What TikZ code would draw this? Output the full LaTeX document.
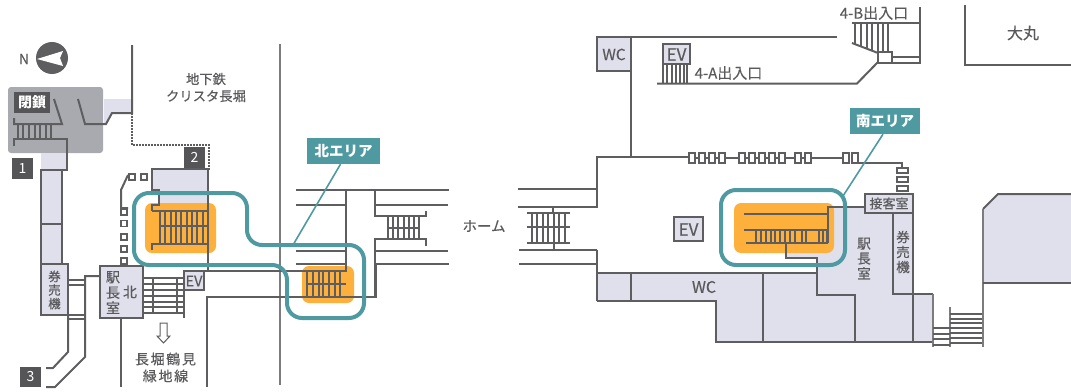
\documentclass[tikz,border=0pt]{standalone}
\usepackage{fontspec}
\setmainfont{Noto Sans CJK JP}
\newfontfamily\med[FakeBold=0.25]{Noto Sans CJK JP}
\newfontfamily\spaced[LetterSpace=12,FakeBold=0.25]{Noto Sans CJK JP}
\definecolor{ln}{HTML}{5E5E60}
\definecolor{lnlight}{HTML}{7C7C7E}
\definecolor{tx}{HTML}{5A5A5C}
\definecolor{lav}{HTML}{DFE0EC}
\definecolor{org}{HTML}{FDB03B}
\definecolor{teal}{HTML}{4F9AA1}
\definecolor{closed}{HTML}{A9AAB0}
\definecolor{tagdark}{HTML}{555557}
\tikzset{
  wall/.style={draw=ln,line width=2pt,line cap=butt,line join=miter},
  thin wall/.style={draw=ln,line width=1.8pt},
  light wall/.style={draw=lnlight,line width=2pt},
  room/.style={fill=lav,draw=ln,line width=2pt},
  frame/.style={draw=teal,line width=4pt,rounded corners=15pt},
  leader/.style={draw=teal,line width=1.6pt},
  hot/.style={fill=org,rounded corners=7pt},
  lbl/.style={text=tx,inner sep=0pt,font=\med\fontsize{#1}{#1}\selectfont,align=center},
  lbl/.default=13,
  stack/.style n args={2}{text=tx,inner sep=0pt,font=\med\fontsize{#1}{#2}\selectfont,align=center},
  tag/.style={fill=teal,text=white,inner sep=0pt,font=\fontsize{14.5}{16}\selectfont\bfseries},
  numtag/.style={fill=tagdark,text=white,inner sep=0pt,font=\fontsize{14}{16}\selectfont},
  smallsq/.style={fill=white,draw=ln,line width=1.8pt}
}
\begin{document}
\begin{tikzpicture}[x=1pt,y=-1pt]
\useasboundingbox (0,0) rectangle (1071,391);
% ---- fills
\fill[closed,rounded corners=3pt] (8,87) rectangle (103,153);
\fill[lav] (104,99) -- (132,99) -- (132,113) -- (112,113) -- (106,124) -- (104,124) -- cycle;
\fill[lav] (41,153) rectangle (67,170);
\fill[lav] (41,170) rectangle (62,264);
\fill[lav] (152,169) -- (208,169) -- (208,211) -- (159,211) -- (159,190) -- (152,190) -- cycle;
\fill[lav] (597,273) -- (817,273) -- (817,258) -- (786,258) -- (786,245) -- (828,245) -- (828,207) -- (865,207) -- (865,213) -- (913,213) -- (913,294) -- (933,294) -- (933,342) -- (716,342) -- (716,301) -- (597,301) -- cycle;
\fill[lav] (983,209) -- (998,194) -- (1071,194) -- (1071,283) -- (983,283) -- cycle;
% ---- orange zones
\fill[hot] (145,203) rectangle (216,253);
\fill[hot] (302,266) rectangle (354,303);
\fill[hot] (734,203) rectangle (834,253);
% ---- north compass
\fill[ln] (52,58) circle (16);
\fill[white] (37,59) -- (63,51) -- (60,58) -- (63,66) -- cycle;
\node[lbl=14] (north) at (24,59) {N};
% ---- closed exit
\node[numtag,minimum width=36pt,minimum height=21pt,font=\fontsize{14}{16}\selectfont\bfseries] (closedtag) at (32,102.5) {閉鎖};
\draw[wall] (54,99) -- (62,124) -- (14,124) -- (14,118);
\draw[wall] (78,99) -- (85,124) -- (106,124) -- (112,113) -- (132,113) -- (132,45);
\foreach \x in {18,23,29,35,40,46,51} \draw[thin wall] (\x,124) -- (\x,139);
\draw[wall] (14,146) -- (14,139) -- (67,139) -- (67,170) -- (41,170) -- (41,264);
\draw[wall] (62,170) -- (62,264);
\draw[wall] (41,224) -- (62,224);
\draw[draw=ln,line width=2pt,dash pattern=on 1.5pt off 1.5pt] (132,113) -- (132,145) -- (209,145) -- (209,170);
\node[numtag,minimum width=21pt,minimum height=21pt] (tag1) at (22.5,168.5) {1};
\node[numtag,minimum width=21pt,minimum height=21pt] (tag2) at (194.5,157.5) {2};
\node[numtag,minimum width=21pt,minimum height=20pt] (tag3) at (30.5,377) {3};
% ---- left ticket machine / corridor
\draw[room] (41,264) rectangle (68,315);
\node[stack={12.5}{13.6}] (ticketL) at (54.5,290) {券\\売\\機};
\draw[wall] (68,315) -- (68,352) -- (53,368) -- (46,368);
\draw[wall] (100,276) -- (85,276) -- (85,357) -- (55,387) -- (46,387);
\foreach \y in {280,285,315,319} \draw[thin wall] (68,\y) -- (85,\y);
% ---- north stairs
\draw[room] (100,266) rectangle (143,318);
\node[stack={14}{15.5}] (roomL) at (113,292.5) {駅\\長\\室};
\node[lbl=14] (kita) at (130,292) {北};
\draw[wall] (121,318) -- (121,387);
\foreach \y in {278,284,290,296,302,307,313} \draw[thin wall] (143,\y) -- (184,\y);
\foreach \x in {153,177} \draw[thin wall] (\x,278) -- (\x,313);
\draw[wall] (184,271) -- (184,318);
\draw[room] (184,271) rectangle (204,290);
\node[lbl=14.5] (evL) at (194,281) {EV};
% ---- square columns
\foreach \x/\y in {124/212,124/223.5,124/237,124/249,124/261,132/177,144/177}
  \draw[smallsq] (\x-3,\y-3) rectangle (\x+3,\y+3);
\draw[wall] (128,175) -- (121,190) -- (121,208) -- (128,208);
% ---- upper building + stairs
\draw[wall] (152,211) -- (152,205) -- (159,205) -- (159,190) -- (152,190) -- (152,169) -- (208,169) -- (208,271);
\draw[wall] (152,211) -- (208,211);
\draw[wall] (152,250) -- (152,244) -- (208,244);
\draw[wall] (159,226) -- (208,226);
\foreach \x in {160,165,171,176,181,187,192,197,203} \draw[thin wall] (\x,211) -- (\x,244);
% ---- long horizontals
\draw[light wall] (280,44) -- (280,385);
\draw[wall] (207,387) -- (207,297) -- (376,297) -- (376,264);
\draw[wall] (204,271) -- (346,271) -- (346,190);
\draw[wall] (296,190) -- (449,190);
\draw[wall] (296,205) -- (346,205);
\draw[wall] (296,251) -- (346,251);
\draw[wall] (296,264) -- (346,264);
\draw[wall] (448,205) -- (376,205);
\draw[wall] (375,190) -- (375,216) -- (425,216);
\draw[wall] (426,211) -- (426,217);
\draw[wall] (426,246) -- (426,239) -- (375,239) -- (375,297);
\draw[wall] (376,251) -- (448,251);
\draw[wall] (376,264) -- (449,264);
\foreach \x in {388,393,398,404,409,414,419} \draw[thin wall] (\x,216) -- (\x,239);
\draw[thin wall] (387,228) -- (420,228);
% small stair in north orange
\foreach \x in {307,313,319,323,329,335,340} \draw[thin wall] (\x,272) -- (\x,297);
\draw[wall] (308,284) -- (346,284);
% ---- platform stair
\draw[wall] (518,189) -- (597,189);
\draw[wall] (518,207) -- (597,207) -- (597,157) -- (688,157);
\draw[wall] (519,250) -- (597,250);
\draw[wall] (519,264) -- (597,264);
\draw[wall] (597,250) -- (597,301);
\draw[thin wall] (553,207) -- (553,213);
\draw[thin wall] (554,243) -- (554,250);
\foreach \y in {213,227,243} \draw[thin wall] (527,\y) -- (570,\y);
\foreach \x in {532,537,543,548,554,559,565} \draw[thin wall] (\x,213) -- (\x,243);
% ---- north top
\draw[wall] (631,37) -- (837,37);
\draw[wall] (631,71) -- (631,158);
\draw[room] (597,37) rectangle (631,71);
\node[lbl=15.5] (wc1) at (614,54.5) {WC};
\draw[room] (663,44) rectangle (690,64);
\node[lbl=17] (ev2) at (676.5,54.5) {EV};
\foreach \x in {663,667,672,676,680,684,687} \draw[thin wall] (\x,64) -- (\x,83.5);
\draw[wall] (657,83.5) -- (857,83.5) -- (878,62);
\node[lbl=15] (a4) at (728.5,73) {4-A出入口};
\node[lbl=15] (b4) at (874,13) {4-B出入口};
\draw[wall] (852,23) -- (920,23);
\draw[wall] (920,7) -- (920,63) -- (892,63);
\draw[wall] (892,57) -- (920,57);
\draw[wall] (852,43) -- (878,53);
\foreach \x/\b in {855/44,861/46,867/49,872/51,878/53,883/53,888/53} \draw[thin wall] (\x,23) -- (\x,\b);
\draw[smallsq] (878,52) rectangle (892,63);
\draw[wall] (965,5) -- (965,65) -- (1071,65);
\node[lbl=16] (daimaru) at (1023,33) {大丸};
% ---- south ticket gates
\draw[wall] (688,157.5) -- (842,157.5);
\foreach \x in {692,702,712,722,742,752,762,772,782,798,808,846,855}
  \draw[smallsq] (\x-3,153) rectangle (\x+3,163);
\draw[wall] (858,163) -- (902,163) -- (902,168);
\foreach \y in {170.5,179.5,188.5} \draw[smallsq] (897,\y-2.5) rectangle (908,\y+2.5);
% ---- south room walls
\draw[wall] (597,301) -- (597,273) -- (817,273);
\draw[wall] (597,301) -- (716,301) -- (716,342) -- (933,342);
\draw[wall] (631,273) -- (631,301);
\draw[wall] (763,273) -- (763,342);
\draw[wall] (786,243) -- (786,258) -- (817,258) -- (817,295) -- (855,295) -- (855,342);
\draw[wall] (828,243) -- (828,207) -- (865,207);
\draw[wall] (744,214) -- (828,214);
\draw[wall] (744,230) -- (828,230);
\draw[wall] (746,243) -- (828,243);
\foreach \x in {756,761,766,771,775,780,785,790,795,802,806,819,823,827} \draw[thin wall] (\x,230) -- (\x,243);
\draw[room] (865,194) rectangle (913,213);
\node[lbl=13] (guest) at (889,203.5) {接客室};
\draw[wall] (893,213) -- (893,294) -- (933,294);
\draw[wall] (913,213) -- (913,342);
\draw[light wall] (933,294) -- (933,347);
\draw[light wall] (950,307) -- (950,347);
\foreach \y in {328,334,339,345} \draw[thin wall] (933,\y) -- (950,\y);
\foreach \y in {314,319,323,328,333,338,343} \draw[thin wall] (950,\y) -- (983,\y);
\draw[light wall] (983,347) -- (983,209);
\draw[wall] (983,209) -- (998,194) -- (1071,194);
\draw[wall] (983,283) -- (1071,283);
\draw[room] (674,217) rectangle (703,241);
\node[lbl=17] (ev3) at (688.5,229.5) {EV};
\node[lbl=16] (wc2) at (704,287) {WC};
\node[stack={13.5}{15}] (roomR) at (864,258.5) {駅\\長\\室};
\node[stack={13.5}{15}] (ticketR) at (903,252) {券\\売\\機};
% ---- texts middle
\node[stack={13.3}{17}] (subway) at (206,87.5) {地下鉄\\クリスタ長堀};
\node[lbl=14.5] (home) at (484,226) {ホーム};
\node[stack={14}{17},font=\spaced\fontsize{14}{17}\selectfont] (nagahori) at (165.5,367.5) {長堀鶴見\\緑地線};
\draw[draw=ln,fill=white,line width=1pt] (160,323) -- (167,323) -- (167,336) -- (170,336) -- (163.5,343) -- (157,336) -- (160,336) -- cycle;
% ---- teal frames and tags
\node[tag,minimum width=73pt,minimum height=26pt] (ntag) at (343.5,151) {北エリア};
\node[tag,minimum width=70pt,minimum height=26pt] (stag) at (885,121) {南エリア};
\coordinate (nend) at (293,245);
\coordinate (send) at (843,196);
\draw[leader] (ntag.south) ++(-3,0) -- (nend);
\draw[leader] (stag.south) ++(-2,0) -- (send);
\draw[frame] (134,193) -- (247,193) -- (247,245) -- (364,245) -- (364,318) -- (287,318) -- (287,265) -- (134,265) -- cycle;
\draw[frame] (721,190) rectangle (845,265);
\end{tikzpicture}
\end{document}
